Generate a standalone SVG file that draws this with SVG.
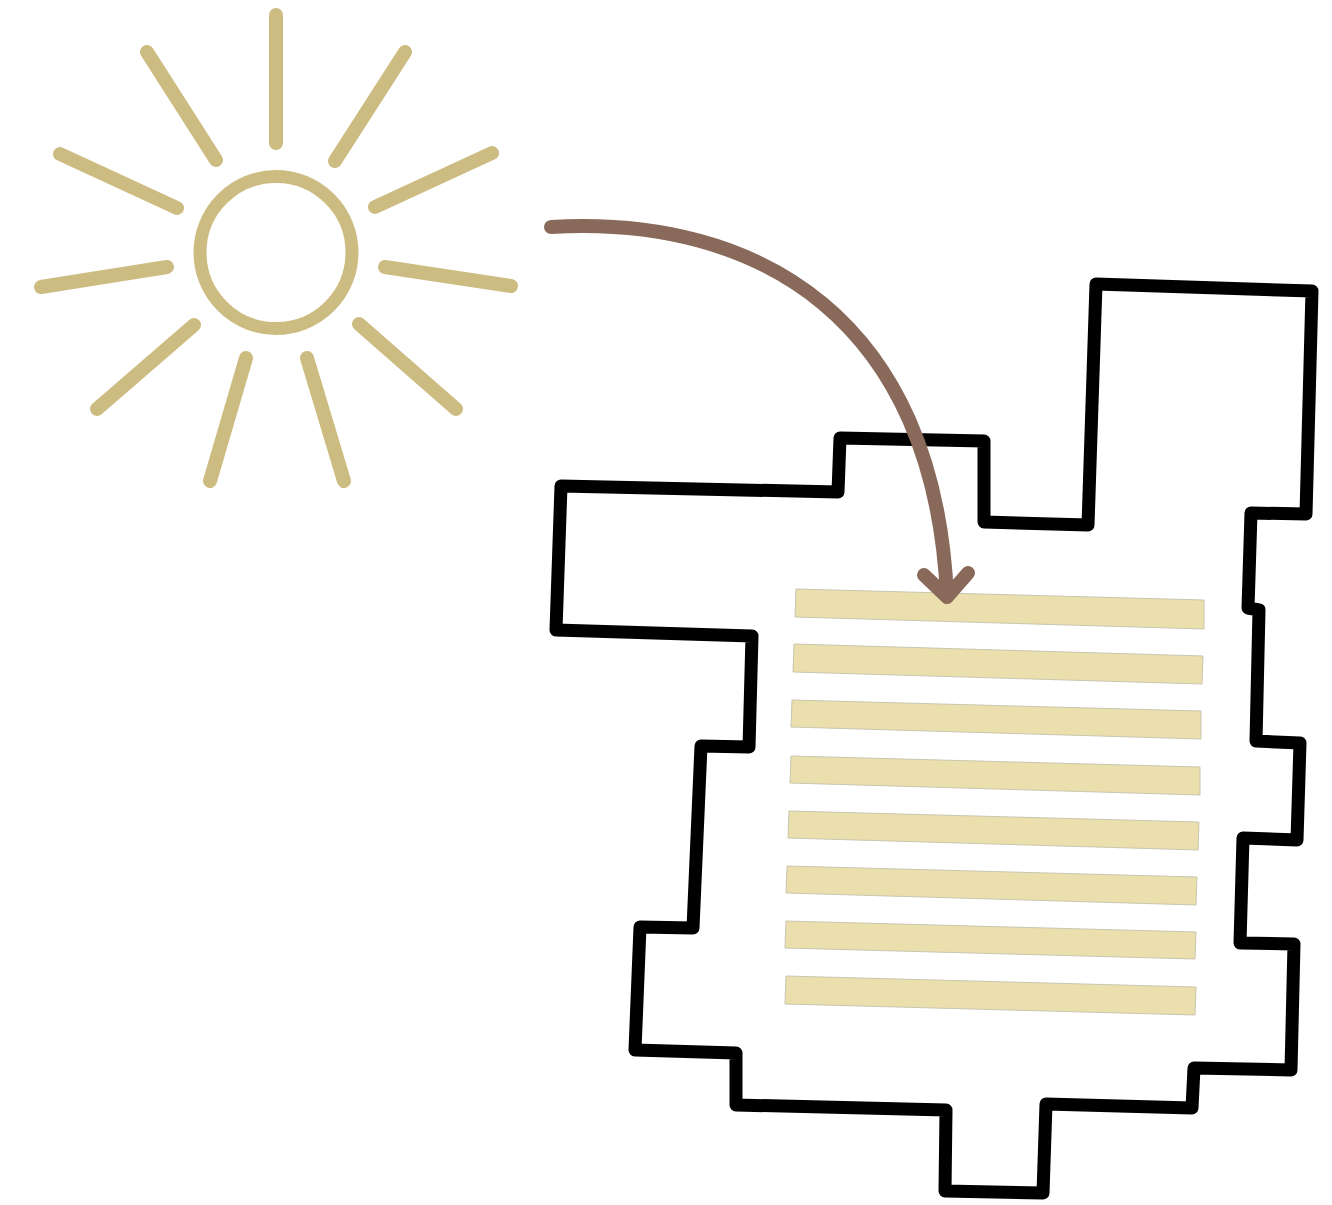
<svg xmlns="http://www.w3.org/2000/svg" width="1332" height="1205" viewBox="0 0 1332 1205">
<style>
.ray{stroke:#cdbc82;stroke-width:14;stroke-linecap:round;fill:none}
.bar{fill:#ebdfae;stroke:#c9c6b0;stroke-width:1}
</style>
<rect width="1332" height="1205" fill="#fff"/>
<g id="sun">
<circle cx="276" cy="252.500" r="76" fill="none" stroke="#cdbc82" stroke-width="13"/>
<path class="ray" d="M276 15V143M147 52L216 160M405 52L335 161M60 154L177 208M492 153L375 207M41 287L167 267M511 286L385 267M194 325L97 409M359 324L456 409M246 358L210 481M307 358L344 481"/>
</g>
<g id="building">
<path fill="none" stroke="#000" stroke-width="13" stroke-linejoin="round" d="M561 486L838 492L840 438L984 441L984 522L1088 525L1096 284L1312 291L1306 514L1251 513L1248 608L1259 610L1256 741L1300 743L1297 840L1243 838L1240 943L1294 944L1291 1070L1194 1068L1192 1108L1046 1104L1043 1193L945 1191L946 1110L736 1105L736 1053L635 1050L640 927L693 928L701 746L749 747L752 636L556 630Z"/>
</g>
<g id="slats">
<path class="bar" d="M796 589L1204 600L1204 629L795 617Z"/>
<path class="bar" d="M794 644L1203 656L1202 684L793 672Z"/>
<path class="bar" d="M792 700L1201 711L1201 739L791 727Z"/>
<path class="bar" d="M791 756L1200 767L1200 795L790 783Z"/>
<path class="bar" d="M789 811L1199 822L1198 850L788 838Z"/>
<path class="bar" d="M787 866L1197 877L1196 905L786 893Z"/>
<path class="bar" d="M786 921L1196 932L1195 959L785 948Z"/>
<path class="bar" d="M786 976L1196 987L1195 1015L785 1004Z"/>
</g>
<g id="connectors">
<path fill="none" stroke="#89695a" stroke-width="14" stroke-linecap="round" stroke-linejoin="round" d="M551 227C760 215 935 320 947 597M924 575L947 597L968 573"/>
</g>
</svg>
